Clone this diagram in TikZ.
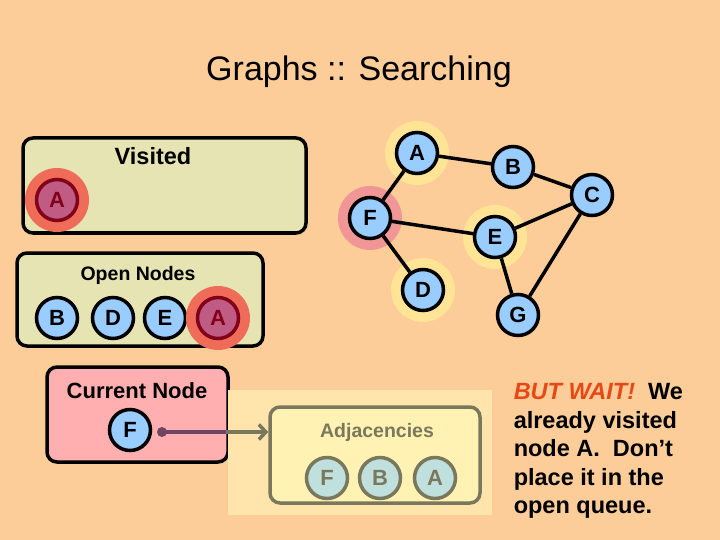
\documentclass[tikz,border=0pt]{standalone}
\usepackage{fontspec}
\setmainfont{Liberation Sans}
\usetikzlibrary{arrows.meta}
\definecolor{peach}{RGB}{252,204,153}
\definecolor{nodeblue}{RGB}{153,204,255}
\definecolor{visitgreen}{RGB}{230,228,178}
\definecolor{currpink}{RGB}{255,175,175}
\definecolor{paleveil}{RGB}{255,228,172}
\definecolor{adjyellow}{RGB}{255,242,178}
\definecolor{adjgray}{RGB}{122,120,92}
\definecolor{adjblue}{RGB}{192,224,222}
\definecolor{halored}{RGB}{238,108,88}
\definecolor{haloyellow}{RGB}{255,228,150}
\definecolor{halopink}{RGB}{240,150,150}
\definecolor{seenfill}{RGB}{192,92,132}
\definecolor{seenline}{RGB}{130,0,25}
\definecolor{linkpurple}{RGB}{110,70,100}
\definecolor{waitred}{RGB}{232,72,22}
\begin{document}
\begin{tikzpicture}[x=1pt, y=-1pt, line width=3.5pt,
    main/.style = {draw, circle, fill=nodeblue, minimum size=41pt, inner sep=0pt, font=\fontsize{22}{22}\selectfont\bfseries},
    seen/.style = {main, fill=seenfill, draw=seenline, text=seenline},
    faded/.style = {main, fill=adjblue, draw=adjgray, text=adjgray},
    halo/.style = {circle, fill=#1, minimum size=64pt, inner sep=0pt},
    box/.style = {draw, rounded corners=10pt, inner sep=0pt},
    title/.style = {font=\fontsize{19.5}{19.5}\selectfont\bfseries}]
\fill[peach] (0,0) rectangle (720,540);
\useasboundingbox (0,0) rectangle (720,540);
\node[font=\fontsize{34}{34}\selectfont, anchor=base] (head) at (359,81) {Graphs :: Searching};
% visited and open lists
\node[box, fill=visitgreen, minimum width=283pt, minimum height=95pt] (vis) at (164.5,185.5) {};
\node[title, font=\fontsize{23.5}{23.5}\selectfont\bfseries, anchor=base] (vislbl) at (153,165) {Visited};
\node[halo=halored] (hv) at (57,200) {};
\node[seen] (vA) at (hv) {A};
\node[box, fill=visitgreen, minimum width=246pt, minimum height=93pt] (open) at (140,299.5) {};
\node[title, anchor=base] (openlbl) at (138,280) {Open Nodes};
\node[main] (oB) at (57,318) {B};
\node[main] (oD) at (113,318) {D};
\node[main] (oE) at (165,318) {E};
\node[halo=halored] (ho) at (218,318) {};
\node[seen] (oA) at (ho) {A};
% graph
\node[halo=haloyellow] (hA) at (417,153) {};
\node[halo=halopink] (hF) at (370,218) {};
\node[halo=haloyellow] (hE) at (495,237) {};
\node[halo=haloyellow] (hD) at (423,290) {};
\node[main] (A) at (hA) {A};
\node[main] (B) at (513,167) {B};
\node[main] (C) at (592,195) {C};
\node[main] (F) at (hF) {F};
\node[main] (E) at (hE) {E};
\node[main] (D) at (hD) {D};
\node[main] (G) at (518,315) {G};
\draw (A) -- (B);
\draw (A) -- (F);
\draw (B) -- (C);
\draw (C) -- (E);
\draw (C) -- (G);
\draw (F) -- (E);
\draw (F) -- (D);
\draw (E) -- (G);
% current node and its adjacencies
\node[box, fill=currpink, minimum width=181pt, minimum height=95pt] (cur) at (137.5,414.5) {};
\node[title, font=\fontsize{22}{22}\selectfont\bfseries, anchor=base] (curlbl) at (137,398) {Current Node};
\node[main] (cF) at (130,430) {F};
\node[fill=paleveil, minimum width=264pt, minimum height=125pt, inner sep=0pt] (veil) at (360,452.5) {};
\node[box, draw=adjgray, fill=adjyellow, minimum width=210pt, minimum height=96pt] (adj) at (375,455) {};
\node[title, text=adjgray, anchor=base] (adjlbl) at (377,437) {Adjacencies};
\node[faded] (aF) at (327,478) {F};
\node[faded] (aB) at (380,478) {B};
\node[faded] (aA) at (435,478) {A};
\coordinate (dot) at (162,432);
\coordinate (cut) at (veil.west |- dot);
\fill[linkpurple] (dot) circle (5);
\draw[linkpurple] (dot) -- (cut);
\draw[adjgray, -{Straight Barb[length=7pt, width=15pt]}] (cut) -- (adj.west |- dot);
% note
\node[anchor=north west, inner sep=0pt, align=left, font=\fontsize{23.5}{28.5}\selectfont\bfseries] (note) at (512,382)
  {{\color{waitred}\itshape BUT WAIT!}\ \ We\\already visited\\node A.\ \ Don’t\\place it in the\\open queue.};
\end{tikzpicture}
\end{document}
